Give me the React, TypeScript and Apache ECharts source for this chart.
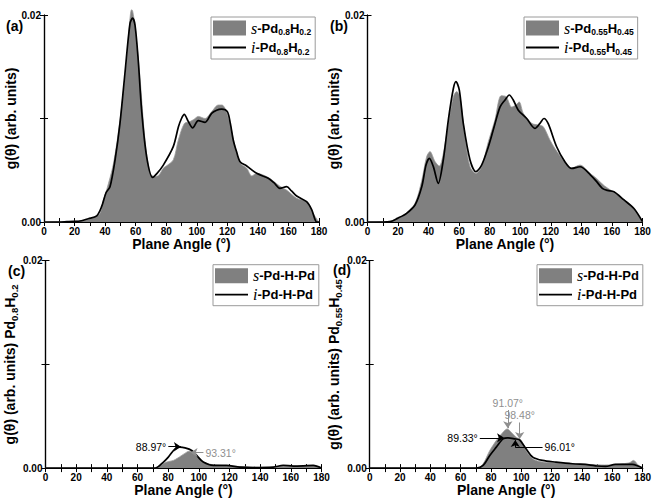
import React, { useEffect, useRef } from "react";
import * as echarts from "echarts";

type P = [number, number];

// ---------- data: [plane angle (deg), g(theta)] ----------
const sA: P[] = [[0,0],[10,0.00002],[20,0.00008],[25,0.00015],[30,0.0003],[33,0.00045],[36.6,0.00083],[38.8,0.0021],[41,0.0031],[45.4,0.0056],[49.7,0.0098],[54.1,0.0156],[57.3,0.0205],[58,0.0204],[59.6,0.0189],[62.8,0.014],[66.1,0.0079],[69.4,0.0047],[72,0.0044],[75,0.0045],[78.1,0.0052],[80,0.0054],[84.6,0.006],[87.9,0.0079],[91.8,0.0095],[95.5,0.0097],[98,0.0099],[101,0.0102],[105.4,0.01],[109.7,0.01065],[114.1,0.0113],[116.5,0.0113],[118.5,0.01098],[121.8,0.0095],[125,0.0073],[128.3,0.0057],[132.7,0.0052],[136,0.00445],[139.2,0.0047],[146.8,0.0043],[154.4,0.00346],[158.8,0.00308],[165.4,0.00229],[171.9,0.00196],[176.3,0.0008],[178.5,0.0003],[180,0]];
const iA: P[] = [[0,0],[9.4,0],[15,0.00003],[20,0.00006],[23.6,0.0001],[29,0.00032],[34.5,0.0006],[37.7,0.00148],[40.6,0.00283],[43.2,0.0034],[46.5,0.00599],[49.7,0.0095],[53,0.0144],[56.3,0.0192],[58,0.0197],[59.6,0.019],[61.7,0.0156],[63.9,0.0108],[67.2,0.0063],[71.1,0.00432],[74,0.0047],[78.1,0.0055],[84.6,0.00728],[88,0.0092],[90,0.01],[91.8,0.0104],[94.5,0.0097],[97.3,0.0091],[101,0.0098],[105.4,0.00963],[109.7,0.0105],[113,0.0108],[116.3,0.0109],[120,0.01066],[122,0.0095],[123.9,0.0079],[126,0.0068],[128.3,0.00583],[132.7,0.00541],[139.2,0.0047],[146.8,0.00422],[150.5,0.0038],[154.4,0.00325],[158.8,0.00341],[162,0.003],[165.4,0.00251],[171.9,0.00196],[175.2,0.0012],[178.5,0],[180,0]];

const sB: P[] = [[0,0],[10,0.00002],[15,0.00008],[20,0.00035],[25,0.0008],[31.1,0.0018],[35.5,0.004],[38.7,0.0063],[40.9,0.0068],[44.2,0.00584],[47,0.0054],[49.6,0.0066],[52.9,0.0095],[56.2,0.0121],[58.4,0.0126],[60.5,0.0121],[63.8,0.00824],[67.1,0.00535],[71,0.0047],[74.7,0.00535],[79.1,0.00776],[83.4,0.00985],[87.5,0.0122],[90.8,0.0121],[94.4,0.0111],[97,0.0113],[99.3,0.0116],[102,0.0105],[107.5,0.00953],[111.8,0.00937],[115.1,0.0092],[119.4,0.00792],[122.7,0.0071],[128.1,0.006],[133.6,0.0052],[139.1,0.0055],[145.6,0.0047],[150,0.0042],[155,0.0035],[160,0.003],[165,0.0025],[170,0.0019],[175,0.0012],[180,0]];
const iB: P[] = [[0,0],[10,0],[14.7,0.00003],[19.6,0.00035],[25.6,0.00084],[31.1,0.00164],[35.5,0.0034],[38.3,0.0055],[40.5,0.00615],[43.1,0.00535],[46.3,0.00374],[49.6,0.00599],[52.9,0.00985],[56.2,0.0129],[57.9,0.01356],[60.1,0.01275],[62.7,0.00953],[67.1,0.00599],[71,0.00486],[74.7,0.0055],[79.1,0.00727],[82.3,0.00888],[86.7,0.0111],[90,0.01179],[92.8,0.01227],[95.4,0.01179],[98.7,0.0108],[104.2,0.01],[109.6,0.00905],[112.9,0.00953],[115.5,0.01],[118.3,0.0095],[123.8,0.00727],[129.3,0.0058],[133.6,0.00518],[139.1,0.00534],[146,0.00454],[150,0.0039],[153.7,0.00325],[157,0.00305],[161.3,0.00293],[167.9,0.00213],[174.4,0.0013],[180,0.00003]];

const sC: P[] = [[0,0],[72,0],[76,0.00035],[79,0.00058],[83.4,0.00074],[86,0.00095],[88.8,0.00122],[92.1,0.00154],[93.3,0.00162],[95.4,0.0016],[98.6,0.00122],[102.9,0.00058],[109.5,0.00032],[120,0.00022],[130,0.00012],[140,0.00008],[150,0.0001],[160,0.0002],[170,0.0002],[175,0.00025],[180,0]];
const iC: P[] = [[0,0],[71.4,0],[76.9,0.00058],[80.1,0.00106],[84.5,0.00186],[87.7,0.00202],[91,0.00195],[95.4,0.0017],[98.6,0.00122],[102.9,0.00058],[109.5,0.00026],[118,0.00026],[126.7,0.0001],[135.4,0.00006],[148.6,0.0001],[155,0.00026],[161.6,0.0002],[168,0.00022],[174.6,0.00026],[180,0]];

const sD: P[] = [[0,0],[71,0],[74.8,0.00042],[79.2,0.0017],[83.5,0.00266],[87.9,0.00346],[90.7,0.00378],[93.3,0.00346],[96.5,0.00298],[99.8,0.00272],[103.1,0.0017],[107.5,0.0009],[114,0.00058],[125,0.0005],[135,0.00042],[145,0.00035],[155,0.0003],[165,0.0004],[171,0.0005],[174,0.00074],[177,0.0003],[180,0]];
const iD: P[] = [[0,0],[70.4,0],[74.8,0.00026],[79.2,0.00122],[83.5,0.00202],[87.9,0.00282],[91.2,0.00291],[95.6,0.00282],[98.8,0.00272],[103.1,0.00186],[107.5,0.00106],[114,0.00074],[122.8,0.00058],[133.7,0.00042],[144.6,0.00032],[150,0.0002],[155.5,0.00016],[162,0.00035],[173,0.00035],[177,0.0002],[180,0]];

// peak annotations (data coordinates)
type Note = { text: string; color: string; from: P; to: P; arrow: boolean };
const BLACK = "#000";
const GREY_TXT = "#8f8f8f";
const notesC: Note[] = [
  { text: "88.97°", color: BLACK, from: [80.1, 0.00206], to: [88.3, 0.00206], arrow: true },
  { text: "93.31°", color: GREY_TXT, from: [103, 0.0015], to: [94.6, 0.0015], arrow: true },
];
const notesD: Note[] = [
  { text: "91.07°", color: GREY_TXT, from: [91.07, 0.0056], to: [91.07, 0.00385], arrow: true },
  { text: "98.48°", color: GREY_TXT, from: [98.9, 0.0044], to: [98.9, 0.0028], arrow: true },
  { text: "89.33°", color: BLACK, from: [72.6, 0.00292], to: [88.6, 0.00292], arrow: true },
  { text: "96.01°", color: BLACK, from: [114, 0.002], to: [96.01, 0.002], arrow: false },
  { text: "", color: BLACK, from: [96.01, 0.002], to: [96.01, 0.0027], arrow: true },
];

const xMin = 0, xMax = 180, xStep = 10;
const yMin = 0, yMax = 0.02, yStep = 0.01;

const names = {
  sA: "s-Pd0.8H0.2", iA: "i-Pd0.8H0.2",
  sB: "s-Pd0.55H0.45", iB: "i-Pd0.55H0.45",
  sC: "s-Pd-H-Pd", iC: "i-Pd-H-Pd",
};

const legendLabels: Record<string, string> = {
  "s-Pd0.8H0.2": "{it|s}{b|-Pd}{sub|0.8}{b|H}{sub|0.2}",
  "i-Pd0.8H0.2": "{it|i}{b|-Pd}{sub|0.8}{b|H}{sub|0.2}",
  "s-Pd0.55H0.45": "{it|s}{b|-Pd}{sub|0.55}{b|H}{sub|0.45}",
  "i-Pd0.55H0.45": "{it|i}{b|-Pd}{sub|0.55}{b|H}{sub|0.45}",
  "s-Pd-H-Pd": "{it|s}{b|-Pd-H-Pd}",
  "i-Pd-H-Pd": "{it|i}{b|-Pd-H-Pd}",
};

const FONT = "Liberation Sans";
const GREY = "#808080";
const LINE_ICON = "path://M0,0L100,0L100,5.5L0,5.5Z";

const panels = [
  { s: sA, i: iA, sName: names.sA, iName: names.iA, notes: [] as Note[],
    yName: "g(θ) (arb. units)", yGap: 17,
    grid: { left: 44, top: 15, width: 275, height: 207 },
    legend: { left: 211, top: 17 }, tag: "(a)", tagX: 6, tagY: 27, clip: false },
  { s: sB, i: iB, sName: names.sB, iName: names.iB, notes: [] as Note[],
    yName: "g(θ) (arb. units)", yGap: 17,
    grid: { left: 367.5, top: 15, width: 275, height: 207 },
    legend: { left: 524, top: 17 }, tag: "(b)", tagX: 330, tagY: 27, clip: true },
  { s: sC, i: iC, sName: names.sC, iName: names.iC, notes: notesC,
    yName: "g(θ) (arb. units) Pd{sub|0.8}H{sub|0.2}", yGap: 11,
    grid: { left: 45.5, top: 260.7, width: 276, height: 208.3 },
    legend: { left: 213, top: 264.7 }, tag: "(c)", tagX: 8, tagY: 272, clip: true },
  { s: sD, i: iD, sName: names.sC, iName: names.iC, notes: notesD,
    yName: "g(θ) (arb. units) Pd{sub|0.55}H{sub|0.45}", yGap: 11,
    grid: { left: 369.7, top: 260.7, width: 275, height: 208.3 },
    legend: { left: 537, top: 264.7 }, tag: "(d)", tagX: 333, tagY: 271, clip: true },
];

function markLines(notes: Note[]) {
  if (!notes.length) return undefined;
  return {
    silent: true,
    symbolSize: 7,
    animation: false,
    data: notes.map((n) => [
      {
        coord: n.from,
        symbol: "none",
        lineStyle: { color: n.color, width: 1, type: "solid" },
        label: {
          show: !!n.text, position: "start", formatter: n.text || " ",
          color: n.color, fontSize: 10.5, fontFamily: FONT, distance: 2,
        },
      },
      { coord: n.to, symbol: n.arrow ? "arrow" : "none" },
    ]),
  } as any;
}

export default function App() {
  const ref = useRef<HTMLDivElement>(null);
  useEffect(() => {
    document.body.style.margin = "0";
    if (!ref.current) return;
    const chart = echarts.init(ref.current, undefined, { renderer: "svg" });

    const tickStyle = { inside: true, length: 4, lineStyle: { color: "#000", width: 1 } };
    const lineAxis = { lineStyle: { color: "#000", width: 1.2 } };

    const grids: any[] = [], xAxes: any[] = [], yAxes: any[] = [], series: any[] = [], legends: any[] = [], graphics: any[] = [];

    panels.forEach((p, k) => {
      grids.push({ ...p.grid, containLabel: false });
      xAxes.push({
        type: "value", gridIndex: k, min: xMin, max: xMax, interval: xStep, position: "bottom",
        axisLine: lineAxis, axisTick: tickStyle, splitLine: { show: false },
        axisLabel: {
          color: "#000", fontWeight: "bold", fontSize: 10, fontFamily: FONT, margin: 4,
          formatter: (v: number) => (v % 20 === 0 ? String(v) : ""),
        },
        name: "Plane Angle (°)", nameLocation: "middle", nameGap: 13,
        nameTextStyle: { color: "#000", fontWeight: "bold", fontSize: 14, fontFamily: FONT },
      });
      xAxes.push({
        type: "value", gridIndex: k, min: xMin, max: xMax, interval: xStep, position: "top",
        axisLine: lineAxis, axisTick: tickStyle, splitLine: { show: false }, axisLabel: { show: false },
      });
      yAxes.push({
        type: "value", gridIndex: k, min: yMin, max: yMax, interval: yStep, position: "left",
        axisLine: { show: true, ...lineAxis }, axisTick: tickStyle, splitLine: { show: false },
        axisLabel: {
          color: "#000", fontWeight: "bold", fontSize: 10, fontFamily: FONT, margin: 3,
          formatter: (v: number) => (Math.abs(v - 0.01) < 1e-9 ? "" : v.toFixed(2)),
        },
        name: p.yName, nameLocation: "middle", nameRotate: 90, nameGap: p.yGap,
        nameTextStyle: {
          color: "#000", fontWeight: "bold", fontSize: 14, fontFamily: FONT,
          rich: { sub: { color: "#000", fontWeight: "bold", fontSize: 9.5, fontFamily: FONT, padding: [9, 0, 0, 0] } },
        },
      });
      yAxes.push({
        type: "value", gridIndex: k, min: yMin, max: yMax, interval: yStep, position: "right",
        axisLine: { show: true, ...lineAxis }, axisTick: tickStyle, splitLine: { show: false }, axisLabel: { show: false },
      });
      series.push({
        type: "line", name: p.sName, xAxisIndex: 2 * k, yAxisIndex: 2 * k, data: p.s,
        smooth: 0.3, symbol: "none", showSymbol: false, clip: p.clip, silent: true, z: 1,
        itemStyle: { color: GREY },
        lineStyle: { color: "#9a9a9a", width: 0.8 },
        areaStyle: { color: GREY, opacity: 1 },
      });
      series.push({
        type: "line", name: p.iName, xAxisIndex: 2 * k, yAxisIndex: 2 * k, data: p.i,
        smooth: 0.3, symbol: "none", showSymbol: false, silent: true, z: 3,
        itemStyle: { color: "#000" },
        lineStyle: { color: "#000", width: 1.7 },
        markLine: markLines(p.notes),
      });
      legends.push({
        left: p.legend.left, top: p.legend.top, orient: "vertical", selectedMode: false,
        itemWidth: 33, itemHeight: 15, itemGap: 3, padding: [3, 4, 3, 2],
        borderColor: "#9a9a9a", borderWidth: 1, backgroundColor: "#fff",
        data: [
          { name: p.sName, icon: "rect", itemStyle: { borderWidth: 0 } },
          { name: p.iName, icon: LINE_ICON, itemStyle: { borderWidth: 0, color: "#000" } },
        ],
        formatter: (name: string) => legendLabels[name] || name,
        textStyle: {
          color: "#000",
          rich: {
            it: { fontFamily: "Liberation Serif", fontStyle: "italic", fontSize: 16, color: "#000" },
            b: { fontFamily: FONT, fontWeight: "bold", fontSize: 13, color: "#000" },
            sub: { fontFamily: FONT, fontWeight: "bold", fontSize: 8.5, color: "#000", padding: [8, 0, 0, 0] },
          },
        },
      });
      graphics.push({
        type: "text", left: p.tagX, top: p.tagY - 8,
        style: { text: p.tag, fontFamily: FONT, fontWeight: "bold", fontSize: 14, fill: "#000" },
      });
    });

    chart.setOption({
      animation: false,
      textStyle: { fontFamily: FONT },
      grid: grids,
      xAxis: xAxes,
      yAxis: yAxes,
      legend: legends,
      series,
      graphic: graphics,
    });
    return () => chart.dispose();
  }, []);
  return <div ref={ref} style={{ position: "fixed", left: 0, top: 0, width: 654, height: 498, background: "#fff" }} />;
}
